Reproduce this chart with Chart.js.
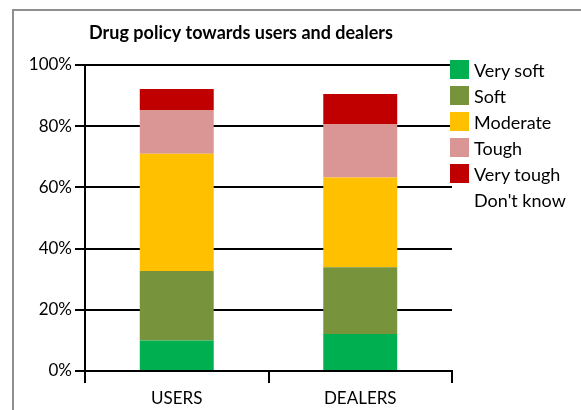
<!DOCTYPE html>
<html>
<head>
<meta charset="utf-8">
<title>Drug policy towards users and dealers</title>
<script src="https://cdn.jsdelivr.net/npm/chart.js@4"></script>
<style>
  body { margin: 0; background: #fff; }
  #wrap { position: relative; width: 581px; height: 410px; overflow: hidden; font-family: Lato, sans-serif; }
  #frame { position: absolute; left: 12px; top: 9px; width: 600px; height: 440px;
           border-left: 2px solid #8f8f8f; border-top: 2px solid #8f8f8f; }
  canvas { position: absolute; left: 0; top: 0; }
  #legend { position: absolute; left: 450px; top: 60px; margin: 0; padding: 0; list-style: none; }
  #legend li { height: 19px; margin-bottom: 7px; display: flex; align-items: center; font-size: 18px; color: #000; white-space: nowrap; }
  #legend span { display: inline-block; width: 19px; height: 19px; margin-right: 5px; flex: none; }
</style>
</head>
<body>
<div id="wrap">
  <div id="frame"></div>
  <canvas id="policyChart" width="581" height="410"></canvas>
  <ul id="legend"></ul>
</div>
<script>
const categories = ['USERS', 'DEALERS'];
const seriesNames = ['Very soft', 'Soft', 'Moderate', 'Tough', 'Very tough', "Don't know"];
const seriesColors = ['#00b050', '#77933c', '#ffc000', '#d99694', '#c00000', 'rgba(0,0,0,0)'];

// share of answers, in percent
const verySoft  = [10.0, 12.1];
const soft      = [22.7, 21.8];
const moderate  = [38.3, 29.3];
const tough     = [14.3, 17.5];
const veryTough = [6.8, 9.8];
const dontKnow  = [7.9, 9.5];

const yTicks = [0, 20, 40, 60, 80, 100];

const seriesValues = [verySoft, soft, moderate, tough, veryTough, dontKnow];

const datasets = seriesNames.map((name, i) => ({
    label: name,
    data: seriesValues[i],
    backgroundColor: seriesColors[i],
    borderWidth: 0,
    barPercentage: 0.403,
    categoryPercentage: 1
}));

// legend next to the plot
const legend = document.getElementById('legend');
seriesNames.forEach((name, i) => {
    const li = document.createElement('li');
    const sw = document.createElement('span');
    sw.style.background = seriesColors[i];
    li.appendChild(sw);
    li.appendChild(document.createTextNode(name));
    legend.appendChild(li);
});

const ctx = document.getElementById('policyChart').getContext('2d');
new Chart(ctx, {
    type: 'bar',
    data: {
        labels: categories,
        datasets: datasets
    },
    options: {
        responsive: false,
        animation: false,
        layout: {
            padding: { top: 20, right: 129, bottom: 0, left: 30 }
        },
        plugins: {
            legend: { display: false },
            tooltip: { enabled: false },
            title: {
                display: true,
                text: 'Drug policy towards users and dealers',
                color: '#000',
                font: { family: 'Lato', size: 18, weight: 'bold', lineHeight: 1.2 },
                padding: { top: 2.5, bottom: 20.8 }
            }
        },
        scales: {
            x: {
                stacked: true,
                grid: {
                    offset: true,
                    drawOnChartArea: false,
                    color: '#000',
                    lineWidth: 2,
                    tickLength: 12
                },
                border: { color: '#000', width: 2 },
                ticks: {
                    color: '#000',
                    padding: 5,
                    font: { family: 'Lato', size: 17 }
                },
                afterFit: function(scale) { scale.height = 39; }
            },
            y: {
                stacked: true,
                min: 0,
                max: 100,
                afterBuildTicks: function(scale) {
                    scale.ticks = yTicks.map(v => ({ value: v }));
                },
                grid: {
                    color: '#000',
                    lineWidth: 2,
                    tickLength: 10
                },
                border: { color: '#000', width: 2 },
                ticks: {
                    color: '#000',
                    padding: 3,
                    font: { family: 'Lato', size: 17 },
                    callback: v => v + '%'
                },
                afterFit: function(scale) { scale.width = 55; }
            }
        }
    }
});
</script>
</body>
</html>
